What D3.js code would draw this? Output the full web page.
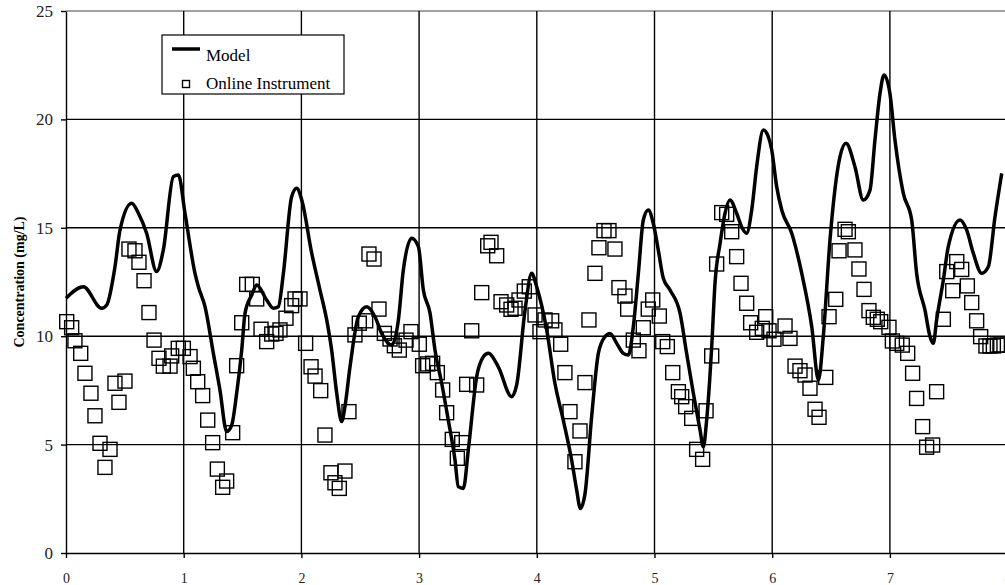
<!DOCTYPE html>
<html>
<head>
<meta charset="utf-8">
<script src="https://cdn.jsdelivr.net/npm/d3@7"></script>
<style>
  body { margin: 0; background: #fff; }
  svg { display: block; font-family: 'Liberation Serif', 'Times New Roman', serif; }
</style>
</head>
<body>
<svg id="chart"></svg>
<script>
// Model curve (time in days, concentration mg/L)
const modelT = [0, 0.147, 0.303, 0.346, 0.416, 0.459, 0.558, 0.615, 0.685, 0.77, 0.827, 0.912, 0.955, 1.011, 1.096, 1.125, 1.181, 1.252, 1.308, 1.365, 1.408, 1.45, 1.493, 1.521, 1.578, 1.62, 1.705, 1.762, 1.804, 1.847, 1.917, 1.96, 2.003, 2.088, 2.158, 2.215, 2.257, 2.3, 2.342, 2.37, 2.413, 2.484, 2.555, 2.625, 2.682, 2.767, 2.824, 2.866, 2.937, 2.994, 3.036, 3.093, 3.135, 3.192, 3.248, 3.305, 3.333, 3.376, 3.418, 3.489, 3.546, 3.588, 3.673, 3.786, 3.829, 3.9, 3.956, 3.999, 4.084, 4.154, 4.225, 4.296, 4.339, 4.37, 4.41, 4.466, 4.523, 4.579, 4.622, 4.679, 4.735, 4.778, 4.82, 4.863, 4.905, 4.947, 4.99, 5.032, 5.075, 5.132, 5.217, 5.273, 5.33, 5.387, 5.415, 5.443, 5.486, 5.514, 5.557, 5.599, 5.641, 5.698, 5.74, 5.783, 5.826, 5.868, 5.925, 5.967, 5.996, 6.038, 6.081, 6.166, 6.251, 6.336, 6.393, 6.434, 6.491, 6.576, 6.627, 6.703, 6.774, 6.831, 6.873, 6.916, 6.95, 7.0, 7.043, 7.114, 7.185, 7.227, 7.298, 7.341, 7.369, 7.397, 7.454, 7.496, 7.596, 7.652, 7.709, 7.78, 7.836, 7.893, 7.95]
const modelV = [11.75, 12.28, 11.29, 11.44, 13.2, 14.9, 16.13, 15.67, 14.75, 12.98, 13.98, 17.36, 17.44, 15.67, 12.9, 12.28, 11.36, 9.21, 7.52, 5.6, 5.9, 7.37, 9.36, 11.06, 11.9, 12.36, 11.67, 11.29, 11.36, 12.9, 16.43, 16.82, 16.28, 13.82, 12.13, 10.75, 9.36, 7.37, 6.06, 6.75, 8.59, 10.9, 11.36, 10.9, 10.13, 9.59, 10.75, 13.05, 14.52, 14.13, 12.13, 11.06, 9.36, 7.83, 6.13, 4.29, 3.06, 2.98, 4.75, 8.13, 9.05, 9.21, 8.59, 7.21, 7.75, 11.2, 12.9, 12.28, 10.29, 7.83, 6.13, 4.29, 2.9, 2.05, 2.75, 6.29, 9.21, 9.98, 10.13, 9.67, 9.21, 9.13, 10.44, 12.9, 15.36, 15.82, 15.2, 13.98, 12.67, 12.13, 11.06, 9.21, 7.37, 5.67, 4.9, 6.13, 9.52, 12.44, 14.28, 15.67, 16.28, 15.67, 15.05, 14.75, 15.82, 17.82, 19.51, 19.2, 18.59, 16.9, 15.82, 14.75, 12.9, 10.44, 7.98, 9.98, 14.44, 18.28, 18.9, 17.82, 16.28, 16.74, 19.05, 21.2, 22.05, 21.2, 19.05, 16.59, 15.36, 12.9, 11.2, 9.98, 9.67, 10.75, 12.59, 14.13, 15.36, 14.9, 13.82, 12.9, 13.2, 15.51, 17.51]

// Online instrument readings
const instT = [0.006, 0.048, 0.076, 0.125, 0.161, 0.212, 0.246, 0.289, 0.331, 0.374, 0.416, 0.45, 0.501, 0.535, 0.586, 0.62, 0.663, 0.705, 0.748, 0.79, 0.827, 0.884, 0.898, 0.954, 0.997, 1.054, 1.082, 1.119, 1.161, 1.204, 1.246, 1.286, 1.331, 1.365, 1.416, 1.45, 1.493, 1.535, 1.583, 1.62, 1.657, 1.705, 1.748, 1.784, 1.818, 1.869, 1.917, 1.946, 1.988, 2.036, 2.082, 2.116, 2.164, 2.2, 2.251, 2.285, 2.322, 2.37, 2.404, 2.455, 2.492, 2.546, 2.574, 2.617, 2.659, 2.705, 2.753, 2.79, 2.832, 2.889, 2.931, 3.002, 3.03, 3.073, 3.115, 3.155, 3.2, 3.234, 3.282, 3.325, 3.362, 3.404, 3.447, 3.489, 3.532, 3.583, 3.611, 3.659, 3.696, 3.744, 3.781, 3.815, 3.849, 3.894, 3.936, 3.985, 4.027, 4.07, 4.126, 4.154, 4.203, 4.239, 4.282, 4.324, 4.367, 4.409, 4.443, 4.494, 4.528, 4.571, 4.613, 4.664, 4.698, 4.749, 4.772, 4.82, 4.868, 4.905, 4.947, 4.985, 5.041, 5.07, 5.109, 5.155, 5.203, 5.231, 5.265, 5.316, 5.358, 5.409, 5.438, 5.486, 5.528, 5.571, 5.613, 5.656, 5.698, 5.735, 5.783, 5.817, 5.868, 5.916, 5.945, 5.973, 6.015, 6.109, 6.151, 6.194, 6.236, 6.279, 6.321, 6.364, 6.398, 6.455, 6.483, 6.54, 6.568, 6.619, 6.647, 6.703, 6.737, 6.78, 6.822, 6.859, 6.893, 6.922, 6.992, 7.021, 7.058, 7.105, 7.151, 7.193, 7.227, 7.278, 7.312, 7.363, 7.397, 7.454, 7.483, 7.534, 7.568, 7.61, 7.658, 7.695, 7.737, 7.771, 7.816, 7.85, 7.879, 7.913, 7.942]
const instV = [10.67, 10.39, 9.79, 9.21, 8.29, 7.37, 6.33, 5.06, 3.95, 4.78, 7.83, 6.95, 7.93, 14.02, 13.94, 13.41, 12.56, 11.09, 9.82, 8.98, 8.62, 8.62, 9.09, 9.44, 9.44, 9.06, 8.52, 7.9, 7.26, 6.13, 5.09, 3.87, 3.03, 3.32, 5.55, 8.64, 10.62, 12.39, 12.39, 11.72, 10.32, 9.75, 10.1, 10.13, 10.29, 10.83, 11.41, 11.72, 11.72, 9.67, 8.59, 8.16, 7.49, 5.44, 3.7, 3.24, 2.98, 3.78, 6.52, 10.06, 10.6, 10.71, 13.79, 13.56, 11.25, 10.13, 9.87, 9.56, 9.36, 9.82, 10.21, 9.63, 8.64, 8.72, 8.75, 8.32, 7.52, 6.47, 5.24, 4.37, 5.09, 7.78, 10.25, 7.75, 12.01, 14.17, 14.33, 13.71, 11.59, 11.44, 11.24, 11.29, 11.67, 12.08, 12.28, 10.98, 10.21, 10.75, 10.71, 10.29, 9.63, 8.32, 6.52, 4.21, 5.63, 7.86, 10.75, 12.9, 14.08, 14.87, 14.87, 14.02, 12.24, 11.85, 11.25, 9.82, 9.33, 10.39, 11.25, 11.67, 10.93, 9.75, 9.52, 8.32, 7.44, 7.21, 6.75, 6.21, 4.78, 4.32, 6.56, 9.09, 13.33, 15.7, 15.62, 14.82, 13.67, 12.44, 11.52, 10.62, 10.18, 10.36, 10.9, 10.25, 9.86, 10.47, 9.9, 8.62, 8.41, 8.21, 7.6, 6.63, 6.26, 8.1, 10.9, 11.7, 13.94, 14.93, 14.82, 13.98, 13.1, 12.16, 11.18, 10.87, 10.78, 10.67, 10.41, 9.78, 9.67, 9.59, 9.21, 8.29, 7.13, 5.83, 4.88, 4.98, 7.44, 10.78, 12.98, 12.1, 13.44, 13.08, 12.32, 11.55, 10.71, 9.98, 9.55, 9.55, 9.55, 9.59, 9.59]

const xTicks = [0, 1, 2, 3, 4, 5, 6, 7, 8]
const yTicks = [0, 5, 10, 15, 20, 25]
const seriesNames = ['Model', 'Online Instrument']

const width = 1005
const height = 585
const margin = { top: 11, left: 66, bottom: 32 }
const plotRight = 1007.6 // x = 8 sits just past the window edge

const svg = d3.select('#chart')
  .attr('width', width)
  .attr('height', height)

const x = d3.scaleLinear().domain([0, 8]).range([margin.left, plotRight])
const y = d3.scaleLinear().domain([0, 25]).range([height - margin.bottom, margin.top])

// Grid
const grid = svg.append('g')
grid.selectAll('.hgrid')
  .data(yTicks.filter(d => d > 0))
  .join('line')
  .attr('x1', margin.left)
  .attr('x2', plotRight)
  .attr('y1', d => y(d))
  .attr('y2', d => y(d))
  .attr('stroke', d => d === 25 ? '#808080' : '#000')
  .attr('stroke-width', 1.4)

grid.selectAll('.vgrid')
  .data(xTicks.filter(d => d > 0))
  .join('line')
  .attr('x1', d => x(d))
  .attr('x2', d => x(d))
  .attr('y1', y(25))
  .attr('y2', y(0))
  .attr('stroke', '#000')
  .attr('stroke-width', 1.4)

// Axes
const yAxis = svg.append('g')
  .attr('transform', `translate(${margin.left},0)`)
  .call(d3.axisLeft(y).tickValues(yTicks).tickSize(5).tickSizeOuter(0).tickPadding(8))
yAxis.select('.domain').attr('stroke', '#000').attr('stroke-width', 1.4)
yAxis.selectAll('.tick line').attr('stroke-width', 1.4)
yAxis.selectAll('.tick text')
  .attr('font-family', 'Liberation Serif, serif')
  .attr('font-size', 17)
  .attr('fill', '#222')

const xAxis = svg.append('g')
  .attr('transform', `translate(0,${y(0)})`)
  .call(d3.axisBottom(x).tickValues(xTicks).tickSize(5).tickSizeOuter(0).tickPadding(15))
xAxis.select('.domain').attr('stroke', '#000').attr('stroke-width', 1.4)
xAxis.selectAll('.tick line').attr('stroke-width', 1.4)
xAxis.selectAll('.tick text')
  .attr('font-family', 'Liberation Serif, serif')
  .attr('font-size', 14)
  .attr('fill', '#222')

// Axis title
svg.append('text')
  .attr('transform', `translate(24,${(y(0) + y(25)) / 2}) rotate(-90)`)
  .attr('text-anchor', 'middle')
  .attr('font-size', 14)
  .attr('font-weight', 'bold')
  .text('Concentration (mg/L)')

// Instrument squares
const sq = 14
svg.append('g')
  .selectAll('rect')
  .data(d3.range(instT.length))
  .join('rect')
  .attr('x', i => x(instT[i]) - sq / 2)
  .attr('y', i => y(instV[i]) - sq / 2)
  .attr('width', sq)
  .attr('height', sq)
  .attr('fill', 'none')
  .attr('stroke', '#000')
  .attr('stroke-width', 1.4)

// Model line
const line = d3.line()
  .x(i => x(modelT[i]))
  .y(i => y(modelV[i]))
  .curve(d3.curveMonotoneX)

svg.append('path')
  .datum(d3.range(modelT.length))
  .attr('d', line)
  .attr('fill', 'none')
  .attr('stroke', '#000')
  .attr('stroke-width', 3.5)
  .attr('stroke-linejoin', 'round')

// Legend
const legend = svg.append('g').attr('transform', 'translate(162,35)')
legend.append('rect')
  .attr('width', 182)
  .attr('height', 59)
  .attr('fill', '#fff')
  .attr('stroke', '#000')
  .attr('stroke-width', 1.2)
legend.append('line')
  .attr('x1', 10).attr('x2', 38)
  .attr('y1', 14).attr('y2', 14)
  .attr('stroke', '#000')
  .attr('stroke-width', 3.5)
legend.append('rect')
  .attr('x', 20.5).attr('y', 45.5)
  .attr('width', 7).attr('height', 7)
  .attr('fill', 'none')
  .attr('stroke', '#000')
  .attr('stroke-width', 1.4)
legend.selectAll('text')
  .data(seriesNames)
  .join('text')
  .attr('x', 44)
  .attr('y', (d, i) => 26 + i * 28)
  .attr('font-size', 17)
  .text(d => d)
</script>
</body>
</html>
